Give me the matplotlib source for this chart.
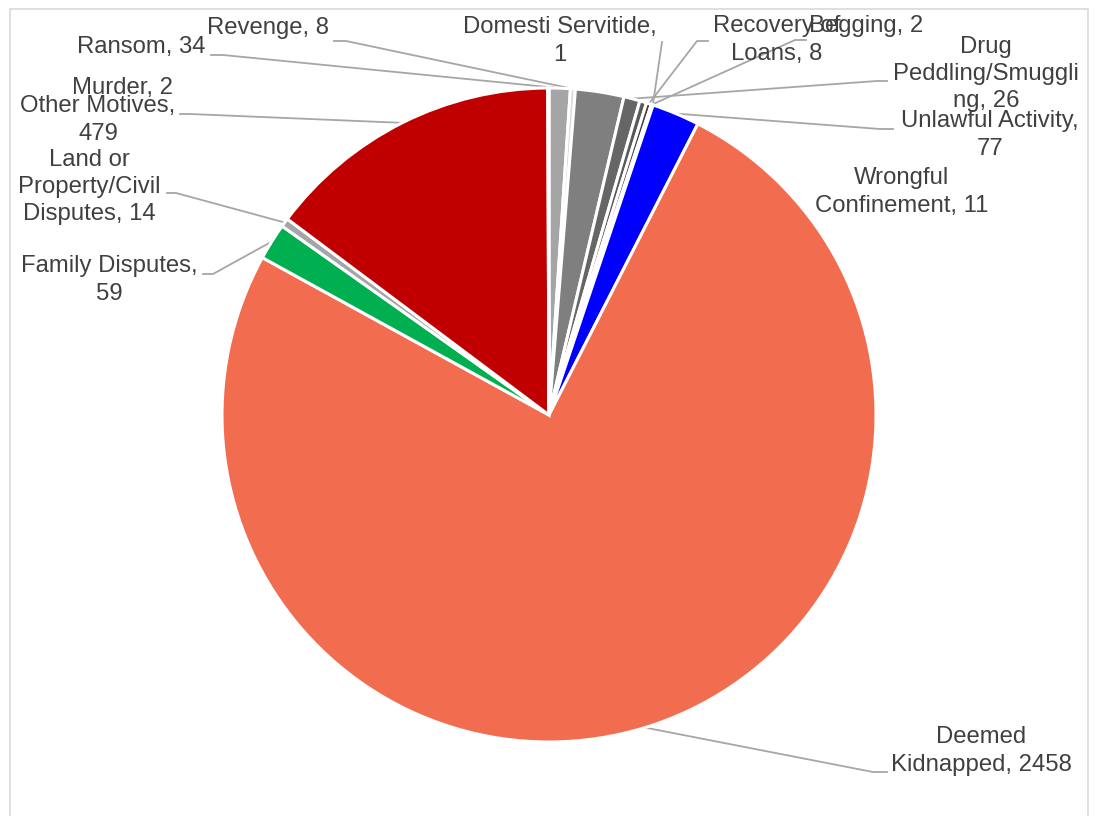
import numpy as np
import matplotlib
matplotlib.use("Agg")
import matplotlib.pyplot as plt
from matplotlib.patches import Rectangle

W, H = 1095, 816

# slices, clockwise from 12 o'clock
categories = ["Ransom", "Revenge", "", "Drug\nPeddling/Smuggli\nng", "Wrongful\nConfinement",
              "Recovery of\nLoans", "Begging", "Domesti Servitide,\n", "Unlawful Activity,\n",
              "Deemed\nKidnapped", "Family Disputes,\n", "Land or\nProperty/Civil\nDisputes",
              "Other Motives,\n", "Murder"]
values = [34, 8, 78, 26, 11, 8, 2, 1, 77, 2458, 59, 14, 479, 2]
colors = ["#A5A5A5", "#D9D9D9", "#7F7F7F", "#666666", "#595959", "#404040", "#262626",
          "#0D0D0D", "#0000FF", "#F26C50", "#00B050", "#A5A5A5", "#C00000", "#8C8C8C"]

# label centre (px, y down) and leader path from text to slice
label_pos = {
    0: (141, 47), 1: (268, 28), 3: (986, 74), 4: (902, 192), 5: (777, 40), 6: (866, 26),
    7: (560, 41), 8: (990, 135), 9: (981, 751), 10: (109, 280), 11: (89, 187),
    12: (98, 120), 13: (123, 88),
}
leaders = {
    0: [(211, 55), (223, 55)], 1: [(334, 41), (346, 41)], 3: [(887, 81), (877, 81)],
    5: [(708, 41), (697, 41)], 6: [(806, 40), (795, 40)], 7: [(662, 42)],
    8: [(893, 129), (880, 129)], 9: [(887, 772), (873, 772)], 10: [(203, 274), (213, 274)],
    11: [(167, 193), (176, 193)], 12: [(180, 114), (190, 114)],
}

cx, cy, r = 549, 415, 327

fig = plt.figure(figsize=(W / 100, H / 100), dpi=100)
ax = fig.add_axes([0, 0, 1, 1])

ax.add_patch(Rectangle((10, -5), 1078, H - 9 + 5, fill=False, edgecolor="#D9D9D9", lw=1.2))

wedges, _ = ax.pie(values, colors=colors, startangle=90, counterclock=False,
                   center=(cx, H - cy), radius=r, frame=True,
                   wedgeprops=dict(edgecolor="white", linewidth=2.2))
ax.set_xlim(0, W)
ax.set_ylim(0, H)
ax.set_aspect("equal")
ax.axis("off")

for i, w in label_pos.items():
    name = categories[i]
    if name.endswith("\n"):
        txt = name + f"{values[i]}"
    else:
        txt = f"{name}, {values[i]}"
    ax.text(w[0], H - w[1], txt, ha="center", va="center", fontsize=17.2,
            color="#404040", family="Liberation Sans", linespacing=1.3)

for i, pts in leaders.items():
    wd = wedges[i]
    mid = np.deg2rad((wd.theta1 + wd.theta2) / 2)
    sx, sy = cx + r * np.cos(mid), (H - cy) + r * np.sin(mid)
    xs = [p[0] for p in pts] + [sx]
    ys = [H - p[1] for p in pts] + [sy]
    ax.plot(xs, ys, color="#A6A6A6", lw=1.3, zorder=0.5)

fig.savefig("out.png", dpi=100)
